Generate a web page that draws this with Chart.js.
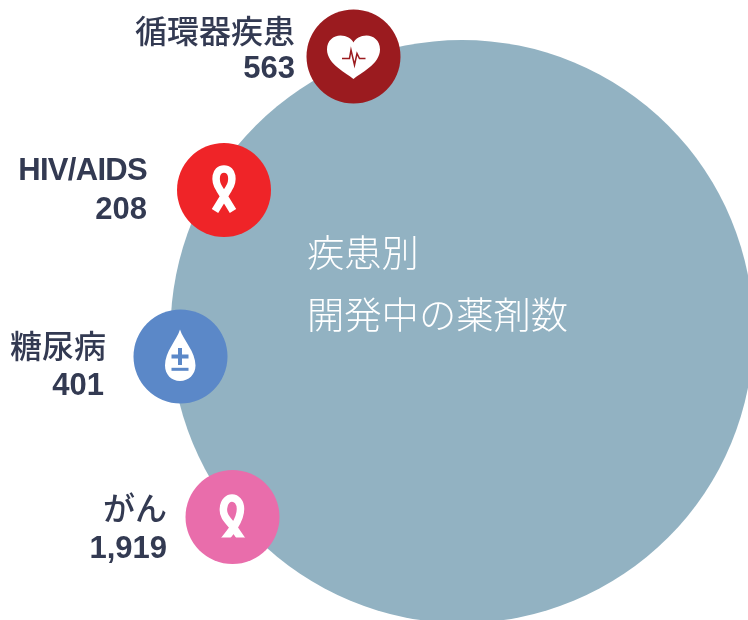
<!DOCTYPE html>
<html>
<head>
<meta charset="utf-8">
<script src="https://cdn.jsdelivr.net/npm/chart.js@4/dist/chart.umd.min.js"></script>
<style>
html, body {margin: 0; padding: 0; background: #fff;}
canvas {display: block;}
</style>
</head>
<body>
<canvas id="myChart" width="748" height="620"></canvas>
<script>
const categories = ['循環器疾患', 'HIV/AIDS', '糖尿病', 'がん'];
const drugCounts = ['563', '208', '401', '1,919'];
const bubbleX = [353.5, 224, 180.5, 232.5];
const bubbleY = [56.5, 190, 356.5, 517];
const bubbleColors = ['#9b1b1f', '#ef2428', '#5b88c8', '#e96dab'];
const titleLines = ['疾患別', '開発中の薬剤数'];
const jpFont = '"Noto Sans CJK JP", sans-serif';
const textColor = '#333a52';

// label anchors per bubble: right edges and the two baselines
const labelRight = [295, 147, 106, 167];
const countRight = [295, 147, 104, 167];
const nameBase = [43, 180, 358, 520];
const countBase = [78, 219, 395, 558];

function drawHeart(c) {
    c.fillStyle = '#fff';
    c.beginPath();
    c.moveTo(0, 22.5);
    c.bezierCurveTo(-6, 17, -26.5, 8, -26.5, -7);
    c.bezierCurveTo(-26.5, -16, -20, -21, -13, -21);
    c.bezierCurveTo(-7, -21, -2, -18, 0, -14);
    c.bezierCurveTo(2, -18, 7, -21, 13, -21);
    c.bezierCurveTo(20, -21, 26.5, -16, 26.5, -7);
    c.bezierCurveTo(26.5, 8, 6, 17, 0, 22.5);
    c.fill();
    c.strokeStyle = '#9b1b1f';
    c.lineWidth = 1.5;
    c.beginPath();
    c.moveTo(-11.5, 2);
    c.lineTo(-4, 2);
    c.lineTo(-2.5, -6.5);
    c.lineTo(1, 8.5);
    c.lineTo(3.5, -3);
    c.lineTo(6, 2);
    c.lineTo(12, 2);
    c.stroke();
}

function drawRibbon(c) {
    c.strokeStyle = '#fff';
    c.lineWidth = 7.5;
    c.beginPath();
    c.moveTo(-9, 21);
    c.lineTo(4.5, -1);
    c.bezierCurveTo(10, -9, 9, -21, 0, -21);
    c.bezierCurveTo(-9, -21, -10, -9, -4.5, -1);
    c.lineTo(9, 21);
    c.stroke();
}

function drawDrop(c) {
    c.fillStyle = '#fff';
    c.beginPath();
    c.moveTo(-0.5, -27);
    c.bezierCurveTo(-4, -16, -15.5, -5, -15.5, 9);
    c.bezierCurveTo(-15.5, 18, -9, 24.5, -0.5, 24.5);
    c.bezierCurveTo(8, 24.5, 15, 18, 15, 9);
    c.bezierCurveTo(15, -5, 3, -16, -0.5, -27);
    c.fill();
    c.fillStyle = '#5b88c8';
    c.fillRect(-9, -2, 17, 4);
    c.fillRect(-2.5, -8.5, 4, 17);
    c.fillRect(-9, 11.3, 17, 3);
}

function drawPinkRibbon(c) {
    c.save();
    c.beginPath();
    c.rect(-20, -30, 40, 50.5);
    c.clip();
    c.strokeStyle = '#fff';
    c.lineWidth = 7.5;
    c.beginPath();
    c.moveTo(11, 25);
    c.lineTo(0, 9);
    c.bezierCurveTo(-6, 2, -10, -2, -9, -9);
    c.bezierCurveTo(-8.5, -16, -4, -19, -0.5, -19);
    c.bezierCurveTo(4, -19, 8, -15, 8, -8);
    c.bezierCurveTo(8, 3, -1, 14, -10, 25);
    c.stroke();
    c.restore();
}

const iconDrawers = [drawHeart, drawRibbon, drawDrop, drawPinkRibbon];

const labelPlugin = {
    id: 'labelPlugin',
    afterDatasetsDraw(chart) {
        const c = chart.ctx;
        const pts = chart.getDatasetMeta(0).data;
        pts.forEach(function (pt, i) {
            c.save();
            c.translate(pt.x, pt.y);
            iconDrawers[i](c);
            c.restore();
        });

        c.save();
        c.textAlign = 'right';
        c.textBaseline = 'alphabetic';
        c.fillStyle = textColor;
        categories.forEach(function (name, i) {
            const latin = /^[A-Z]/.test(name);
            c.letterSpacing = latin ? '-0.7px' : '0px';
            c.font = latin ? 'bold 31px "Liberation Sans"' : '500 32px ' + jpFont;
            c.fillText(name, labelRight[i], nameBase[i]);
            c.letterSpacing = '0px';
            c.font = 'bold 31px "Liberation Sans"';
            c.fillText(drugCounts[i], countRight[i], countBase[i]);
        });

        c.textAlign = 'left';
        c.fillStyle = '#fff';
        c.font = '300 37.3px ' + jpFont;
        c.fillText(titleLines[0], 307, 267);
        c.fillText(titleLines[1], 307, 329);
        c.restore();
    }
};

const ctx = document.getElementById('myChart');

new Chart(ctx, {
    type: 'bubble',
    data: {
        datasets: [{
            label: '疾患',
            data: categories.map(function (name, i) {
                return {x: bubbleX[i], y: bubbleY[i], r: 47};
            }),
            backgroundColor: bubbleColors,
            borderWidth: 0,
            order: 0
        }, {
            label: '疾患別 開発中の薬剤数',
            data: [{x: 462, y: 331.5, r: 291.5}],
            backgroundColor: '#92b2c2',
            borderWidth: 0,
            order: 1
        }]
    },
    options: {
        responsive: false,
        animation: false,
        layout: {padding: 0, autoPadding: false},
        plugins: {legend: {display: false}, tooltip: {enabled: false}},
        scales: {
            x: {type: 'linear', display: false, min: 0, max: 748},
            y: {type: 'linear', display: false, min: 0, max: 620, reverse: true}
        }
    },
    plugins: [labelPlugin]
});
</script>
</body>
</html>
